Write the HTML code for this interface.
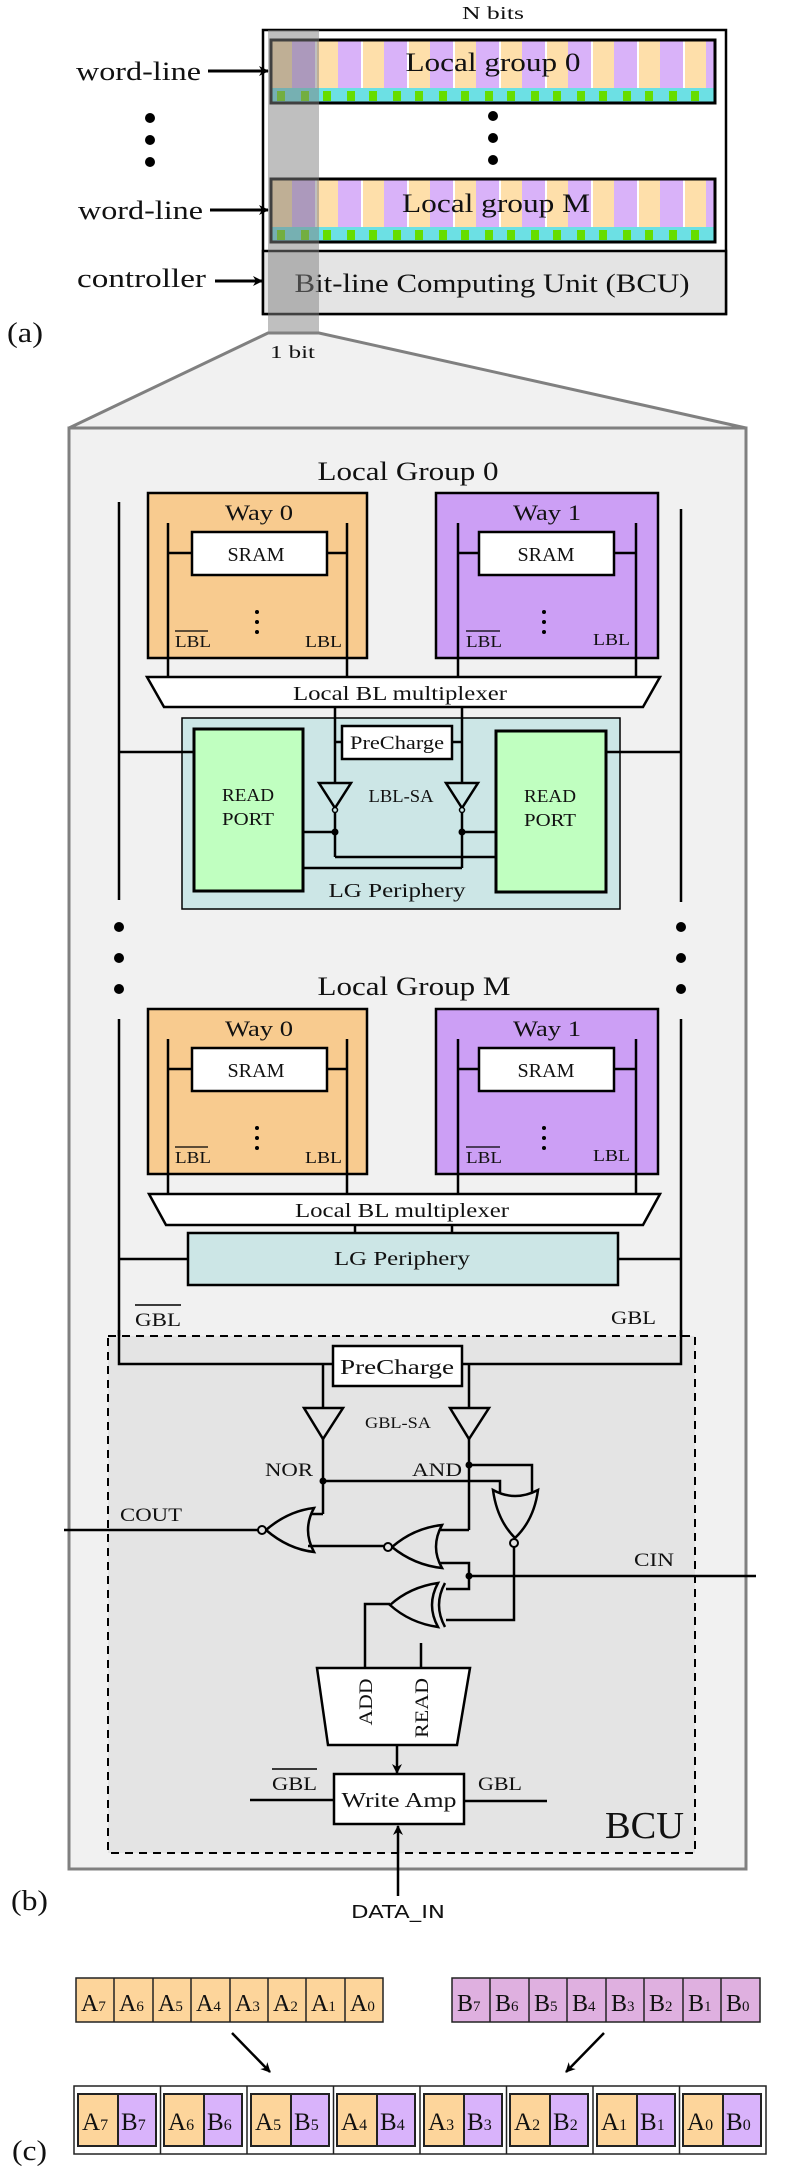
<!DOCTYPE html>
<html><head><meta charset="utf-8"><style>
html,body{margin:0;padding:0;background:#fff;}
svg{display:block;}
text{font-family:"Liberation Serif",serif;fill:#111;}
</style></head><body>
<svg width="797" height="2174" viewBox="0 0 797 2174" xmlns="http://www.w3.org/2000/svg">
<defs>
<pattern id="cols" x="271" y="40" width="46" height="63" patternUnits="userSpaceOnUse">
<rect x="0" y="0" width="46" height="63" fill="#fff"/>
<rect x="0" y="0" width="21" height="63" fill="#fedfaa"/>
<rect x="21" y="0" width="23" height="63" fill="#d9b2f9"/>
<rect x="0" y="48" width="46" height="15" fill="#6ce0e4"/>
<rect x="6" y="51" width="8" height="10" fill="#66dd00"/>
<rect x="30" y="51" width="8" height="10" fill="#66dd00"/>
</pattern>
<pattern id="cols2" x="271" y="179" width="46" height="63" patternUnits="userSpaceOnUse">
<rect x="0" y="0" width="46" height="63" fill="#fff"/>
<rect x="0" y="0" width="21" height="63" fill="#fedfaa"/>
<rect x="21" y="0" width="23" height="63" fill="#d9b2f9"/>
<rect x="0" y="48" width="46" height="15" fill="#6ce0e4"/>
<rect x="6" y="51" width="8" height="10" fill="#66dd00"/>
<rect x="30" y="51" width="8" height="10" fill="#66dd00"/>
</pattern>
<marker id="ah" markerWidth="10" markerHeight="10" refX="9" refY="5" orient="auto" markerUnits="userSpaceOnUse"><path d="M0,0 L10,5 L0,10 L3,5 Z" fill="#000"/></marker>
</defs>

<!-- (a) -->
<text x="493" y="19" font-size="18" text-anchor="middle" textLength="62" lengthAdjust="spacingAndGlyphs">N bits</text>
<rect x="263" y="30" width="463" height="284" fill="#fff" stroke="#000" stroke-width="2.5"/>
<rect x="263" y="251" width="463" height="63" fill="#e4e4e4" stroke="#000" stroke-width="2.5"/>
<rect x="271" y="40" width="444" height="63" fill="url(#cols)" stroke="#000" stroke-width="3"/>
<rect x="271" y="179" width="444" height="63" fill="url(#cols2)" stroke="#000" stroke-width="3"/>
<text x="493" y="71" font-size="26" text-anchor="middle" textLength="175" lengthAdjust="spacingAndGlyphs">Local group 0</text>
<text x="496" y="212" font-size="26" text-anchor="middle" textLength="188" lengthAdjust="spacingAndGlyphs">Local group M</text>
<text x="492" y="292" font-size="26" text-anchor="middle" textLength="395" lengthAdjust="spacingAndGlyphs">Bit-line Computing Unit (BCU)</text>
<circle cx="493" cy="116" r="5"/><circle cx="493" cy="138" r="5"/><circle cx="493" cy="160" r="5"/>
<circle cx="150" cy="118" r="5"/><circle cx="150" cy="140" r="5"/><circle cx="150" cy="162" r="5"/>
<text x="76" y="80" font-size="26" textLength="125" lengthAdjust="spacingAndGlyphs">word-line</text>
<text x="78" y="219" font-size="26" textLength="125" lengthAdjust="spacingAndGlyphs">word-line</text>
<text x="77" y="287" font-size="26" textLength="129" lengthAdjust="spacingAndGlyphs">controller</text>
<line x1="208" y1="71" x2="268" y2="71" stroke="#000" stroke-width="3" marker-end="url(#ah)"/>
<line x1="210" y1="210" x2="268" y2="210" stroke="#000" stroke-width="3" marker-end="url(#ah)"/>
<line x1="215" y1="281" x2="262" y2="281" stroke="#000" stroke-width="3" marker-end="url(#ah)"/>
<text x="7" y="342" font-size="28" textLength="36" lengthAdjust="spacingAndGlyphs">(a)</text>
<rect x="268" y="30" width="51" height="303" fill="#808080" opacity="0.5"/>

<!-- (b) panel -->
<polygon points="268,333 319,333 746,428 69,428" fill="#f1f1f1" stroke="#808080" stroke-width="3"/>
<rect x="69" y="428" width="677" height="1441" fill="#f1f1f1" stroke="#808080" stroke-width="3"/>
<text x="270" y="358" font-size="18" textLength="45" lengthAdjust="spacingAndGlyphs">1 bit</text>

<g stroke="#000" stroke-width="2.5" fill="none">
<!-- outer lines -->
<line x1="119" y1="502" x2="119" y2="900"/>
<line x1="681" y1="509" x2="681" y2="902"/>
</g>
<circle cx="119" cy="927" r="5"/><circle cx="119" cy="958" r="5"/><circle cx="119" cy="989" r="5"/>
<circle cx="681" cy="927" r="5"/><circle cx="681" cy="958" r="5"/><circle cx="681" cy="989" r="5"/>

<!-- Local group 0 -->
<text x="408" y="480" font-size="26" text-anchor="middle" textLength="181" lengthAdjust="spacingAndGlyphs">Local Group 0</text>
<g id="lg0">
<rect x="148" y="493" width="219" height="165" fill="#f8cb8f" stroke="#000" stroke-width="2.5"/>
<rect x="436" y="493" width="222" height="165" fill="#cc9ff5" stroke="#000" stroke-width="2.5"/>
<text x="259" y="520" font-size="22" text-anchor="middle" textLength="68" lengthAdjust="spacingAndGlyphs">Way 0</text>
<text x="547" y="520" font-size="22" text-anchor="middle" textLength="68" lengthAdjust="spacingAndGlyphs">Way 1</text>
<g stroke="#000" stroke-width="2.5">
<line x1="168" y1="523" x2="168" y2="677"/><line x1="347" y1="523" x2="347" y2="677"/>
<line x1="458" y1="523" x2="458" y2="677"/><line x1="636" y1="523" x2="636" y2="677"/>
<line x1="168" y1="553" x2="192" y2="553"/><line x1="327" y1="553" x2="347" y2="553"/>
<line x1="458" y1="553" x2="479" y2="553"/><line x1="614" y1="553" x2="636" y2="553"/>
</g>
<rect x="192" y="532" width="135" height="43" fill="#fff" stroke="#000" stroke-width="2.5"/>
<rect x="479" y="532" width="135" height="43" fill="#fff" stroke="#000" stroke-width="2.5"/>
<text x="256" y="561" font-size="20" text-anchor="middle" textLength="57" lengthAdjust="spacingAndGlyphs">SRAM</text>
<text x="546" y="561" font-size="20" text-anchor="middle" textLength="57" lengthAdjust="spacingAndGlyphs">SRAM</text>
<circle cx="257" cy="612" r="2"/><circle cx="257" cy="622" r="2"/><circle cx="257" cy="632" r="2"/>
<circle cx="544" cy="612" r="2"/><circle cx="544" cy="622" r="2"/><circle cx="544" cy="632" r="2"/>
<text x="175" y="647" font-size="17" textLength="36" lengthAdjust="spacingAndGlyphs">LBL</text>
<line x1="175" y1="631" x2="208" y2="631" stroke="#000" stroke-width="1.2"/>
<text x="305" y="647" font-size="17" textLength="37" lengthAdjust="spacingAndGlyphs">LBL</text>
<text x="466" y="647" font-size="17" textLength="36" lengthAdjust="spacingAndGlyphs">LBL</text>
<line x1="466" y1="631" x2="500" y2="631" stroke="#000" stroke-width="1.2"/>
<text x="593" y="645" font-size="17" textLength="37" lengthAdjust="spacingAndGlyphs">LBL</text>
</g>
<polygon points="147,677 660,677 643,707 164,707" fill="#fff" stroke="#000" stroke-width="2.5"/>
<text x="400" y="700" font-size="20" text-anchor="middle" textLength="214" lengthAdjust="spacingAndGlyphs">Local BL multiplexer</text>
<rect x="182" y="718" width="438" height="191" fill="#cce6e6" stroke="#000" stroke-width="1.5"/>
<g stroke="#000" stroke-width="2.5" fill="none">
<line x1="119" y1="752" x2="194" y2="752"/><line x1="606" y1="752" x2="681" y2="752"/>
<line x1="335" y1="707" x2="335" y2="857"/><line x1="462" y1="707" x2="462" y2="868"/>
<line x1="335" y1="857" x2="496" y2="857"/><line x1="303" y1="868" x2="462" y2="868"/>
<line x1="303" y1="832" x2="335" y2="832"/><line x1="462" y1="832" x2="496" y2="832"/>
<line x1="335" y1="742" x2="342" y2="742"/><line x1="452" y1="742" x2="462" y2="742"/>
<polygon points="319,783 351,783 335,808" fill="#cce6e6"/>
<polygon points="446,783 478,783 462,808" fill="#cce6e6"/>
<circle cx="335" cy="810" r="2.5" fill="#cce6e6" stroke-width="1.5"/>
<circle cx="462" cy="810" r="2.5" fill="#cce6e6" stroke-width="1.5"/>
</g>
<circle cx="335" cy="832" r="3.5"/><circle cx="462" cy="832" r="3.5"/>
<rect x="194" y="729" width="109" height="162" fill="#c0ffc0" stroke="#000" stroke-width="3"/>
<rect x="496" y="731" width="110" height="161" fill="#c0ffc0" stroke="#000" stroke-width="3"/>
<text x="248" y="801" font-size="18" text-anchor="middle" textLength="52" lengthAdjust="spacingAndGlyphs">READ</text>
<text x="248" y="825" font-size="18" text-anchor="middle" textLength="52" lengthAdjust="spacingAndGlyphs">PORT</text>
<text x="550" y="802" font-size="18" text-anchor="middle" textLength="52" lengthAdjust="spacingAndGlyphs">READ</text>
<text x="550" y="826" font-size="18" text-anchor="middle" textLength="52" lengthAdjust="spacingAndGlyphs">PORT</text>
<rect x="342" y="726" width="110" height="33" fill="#fff" stroke="#000" stroke-width="2.5"/>
<text x="397" y="749" font-size="19" text-anchor="middle" textLength="94" lengthAdjust="spacingAndGlyphs">PreCharge</text>
<text x="401" y="802" font-size="18" text-anchor="middle" textLength="65" lengthAdjust="spacingAndGlyphs">LBL-SA</text>
<text x="397" y="897" font-size="20" text-anchor="middle" textLength="137" lengthAdjust="spacingAndGlyphs">LG Periphery</text>

<!-- Local group M -->
<text x="414" y="995" font-size="26" text-anchor="middle" textLength="193" lengthAdjust="spacingAndGlyphs">Local Group M</text>
<use href="#lg0" transform="translate(0,516)"/>
<polygon points="149,1194 660,1194 643,1225 166,1225" fill="#fff" stroke="#000" stroke-width="2.5"/>
<text x="402" y="1217" font-size="20" text-anchor="middle" textLength="214" lengthAdjust="spacingAndGlyphs">Local BL multiplexer</text>
<g stroke="#000" stroke-width="2.5" fill="none">
<line x1="355" y1="1225" x2="355" y2="1233"/><line x1="452" y1="1225" x2="452" y2="1233"/>
<line x1="119" y1="1019" x2="119" y2="1364"/><line x1="681" y1="1019" x2="681" y2="1364"/>
<line x1="119" y1="1259" x2="188" y2="1259"/><line x1="618" y1="1259" x2="681" y2="1259"/>
</g>
<rect x="188" y="1233" width="430" height="52" fill="#cce6e6" stroke="#000" stroke-width="2.5"/>
<text x="402" y="1265" font-size="20" text-anchor="middle" textLength="136" lengthAdjust="spacingAndGlyphs">LG Periphery</text>
<text x="135" y="1326" font-size="19" textLength="46" lengthAdjust="spacingAndGlyphs">GBL</text>
<line x1="135" y1="1305" x2="181" y2="1305" stroke="#000" stroke-width="1.5"/>
<text x="611" y="1324" font-size="19" textLength="45" lengthAdjust="spacingAndGlyphs">GBL</text>

<!-- BCU -->
<rect x="108" y="1336" width="587" height="517" fill="#e4e4e4" stroke="#000" stroke-width="2" stroke-dasharray="8,6"/>
<g stroke="#000" stroke-width="2.5" fill="none">
<polyline points="119,1330 119,1364 333,1364"/>
<polyline points="681,1330 681,1364 462,1364"/>
<line x1="323" y1="1364" x2="323" y2="1514"/>
<line x1="469" y1="1364" x2="469" y2="1530"/>
<polygon points="304,1408 343,1408 323,1439" fill="#e4e4e4"/>
<polygon points="450,1408 489,1408 469,1439" fill="#e4e4e4"/>
<!-- NOR bus -->
<polyline points="323,1481 500,1481 500,1494"/>
<polyline points="469,1465 532,1465 532,1492"/>
<line x1="323" y1="1514" x2="308" y2="1514"/>
<!-- COUT gate -->
<path d="M314,1508 Q302,1530 314,1552 Q288,1549 266,1530 Q288,1511 314,1508 Z" fill="#e4e4e4"/>
<circle cx="262" cy="1530" r="4" fill="#e4e4e4" stroke-width="2"/>
<line x1="258" y1="1530" x2="64" y2="1530"/>
<line x1="308" y1="1546" x2="384" y2="1546"/>
<!-- gate 2 -->
<line x1="437" y1="1530" x2="469" y2="1530"/>
<polyline points="437,1563 469,1563 469,1589 446,1589"/>
<path d="M442,1525 Q430,1547 442,1568 Q414,1565 392,1547 Q414,1528 442,1525 Z" fill="#e4e4e4"/>
<circle cx="388" cy="1547" r="4" fill="#e4e4e4" stroke-width="2"/>
<!-- CIN -->
<line x1="469" y1="1576" x2="756" y2="1576"/>
<!-- vertical NOR -->
<path d="M493,1490 Q515,1502 538,1490 Q534,1520 515,1538 Q497,1520 493,1490 Z" fill="#e4e4e4"/>
<circle cx="514" cy="1543" r="4" fill="#e4e4e4" stroke-width="2"/>
<polyline points="514,1547 514,1620 446,1620"/>
<!-- XOR -->
<path d="M438,1583 Q426,1605 438,1627 Q410,1623 390,1605 Q410,1587 438,1583 Z" fill="#e4e4e4"/>
<path d="M445,1583 Q433,1605 445,1627"/>
<polyline points="390,1604 365,1604 365,1668"/>
<line x1="421" y1="1643" x2="421" y2="1668"/>
<polygon points="317,1668 470,1668 457,1745 328,1745" fill="#fff"/>
<line x1="397" y1="1745" x2="397" y2="1773" marker-end="url(#ah)"/>
<line x1="250" y1="1800" x2="334" y2="1800"/><line x1="464" y1="1801" x2="547" y2="1801"/>
<line x1="398" y1="1896" x2="398" y2="1826" marker-end="url(#ah)"/>
</g>
<circle cx="323" cy="1481" r="3.5"/><circle cx="469" cy="1465" r="3.5"/><circle cx="469" cy="1576" r="3.5"/>
<rect x="333" y="1346" width="129" height="40" fill="#fff" stroke="#000" stroke-width="2.5"/>
<text x="397" y="1374" font-size="21" text-anchor="middle" textLength="114" lengthAdjust="spacingAndGlyphs">PreCharge</text>
<text x="398" y="1428" font-size="16" text-anchor="middle" textLength="66" lengthAdjust="spacingAndGlyphs">GBL-SA</text>
<text x="313" y="1476" font-size="19" text-anchor="end" textLength="48" lengthAdjust="spacingAndGlyphs">NOR</text>
<text x="462" y="1476" font-size="19" text-anchor="end" textLength="50" lengthAdjust="spacingAndGlyphs">AND</text>
<text x="120" y="1521" font-size="19" textLength="62" lengthAdjust="spacingAndGlyphs">COUT</text>
<text x="634" y="1566" font-size="19" textLength="40" lengthAdjust="spacingAndGlyphs">CIN</text>
<text transform="translate(372,1702) rotate(-90)" font-size="19" text-anchor="middle" textLength="47" lengthAdjust="spacingAndGlyphs">ADD</text>
<text transform="translate(428,1708) rotate(-90)" font-size="19" text-anchor="middle" textLength="60" lengthAdjust="spacingAndGlyphs">READ</text>
<rect x="334" y="1774" width="130" height="50" fill="#fff" stroke="#000" stroke-width="2.5"/>
<text x="399" y="1807" font-size="21" text-anchor="middle" textLength="115" lengthAdjust="spacingAndGlyphs">Write Amp</text>
<text x="272" y="1790" font-size="19" textLength="45" lengthAdjust="spacingAndGlyphs">GBL</text>
<line x1="272" y1="1769" x2="317" y2="1769" stroke="#000" stroke-width="1.5"/>
<text x="478" y="1790" font-size="19" textLength="44" lengthAdjust="spacingAndGlyphs">GBL</text>
<text x="605" y="1838" font-size="38" textLength="79" lengthAdjust="spacingAndGlyphs">BCU</text>
<text x="398" y="1918" font-size="18" text-anchor="middle" textLength="94" lengthAdjust="spacingAndGlyphs" style="font-family:'DejaVu Sans','Liberation Sans',sans-serif">DATA_IN</text>
<text x="11" y="1910" font-size="28" textLength="37" lengthAdjust="spacingAndGlyphs">(b)</text>

<!-- (c) -->
<g stroke="#222" stroke-width="1.5">
<rect x="76" y="1978" width="307" height="44" fill="#fdd59b"/>
<rect x="452" y="1978" width="308" height="44" fill="#dfb0e0"/>
<line x1="114" y1="1978" x2="114" y2="2022"/><line x1="153" y1="1978" x2="153" y2="2022"/><line x1="191" y1="1978" x2="191" y2="2022"/><line x1="230" y1="1978" x2="230" y2="2022"/><line x1="268" y1="1978" x2="268" y2="2022"/><line x1="306" y1="1978" x2="306" y2="2022"/><line x1="345" y1="1978" x2="345" y2="2022"/>
<line x1="490" y1="1978" x2="490" y2="2022"/><line x1="529" y1="1978" x2="529" y2="2022"/><line x1="567" y1="1978" x2="567" y2="2022"/><line x1="606" y1="1978" x2="606" y2="2022"/><line x1="644" y1="1978" x2="644" y2="2022"/><line x1="683" y1="1978" x2="683" y2="2022"/><line x1="721" y1="1978" x2="721" y2="2022"/>
</g>
<g font-size="24">
<text x="81" y="2011">A<tspan font-size="15">7</tspan></text>
<text x="119" y="2011">A<tspan font-size="15">6</tspan></text>
<text x="158" y="2011">A<tspan font-size="15">5</tspan></text>
<text x="196" y="2011">A<tspan font-size="15">4</tspan></text>
<text x="235" y="2011">A<tspan font-size="15">3</tspan></text>
<text x="273" y="2011">A<tspan font-size="15">2</tspan></text>
<text x="311" y="2011">A<tspan font-size="15">1</tspan></text>
<text x="350" y="2011">A<tspan font-size="15">0</tspan></text>
<text x="457" y="2011">B<tspan font-size="15">7</tspan></text>
<text x="495" y="2011">B<tspan font-size="15">6</tspan></text>
<text x="534" y="2011">B<tspan font-size="15">5</tspan></text>
<text x="572" y="2011">B<tspan font-size="15">4</tspan></text>
<text x="611" y="2011">B<tspan font-size="15">3</tspan></text>
<text x="649" y="2011">B<tspan font-size="15">2</tspan></text>
<text x="688" y="2011">B<tspan font-size="15">1</tspan></text>
<text x="726" y="2011">B<tspan font-size="15">0</tspan></text>
</g>
<line x1="232" y1="2033" x2="270" y2="2072" stroke="#000" stroke-width="2.5" marker-end="url(#ah)"/>
<line x1="604" y1="2033" x2="566" y2="2072" stroke="#000" stroke-width="2.5" marker-end="url(#ah)"/>
<rect x="74" y="2086" width="692" height="68" fill="#fff" stroke="#222" stroke-width="1.5"/>
<g stroke="#222" stroke-width="1.5">
<line x1="160.5" y1="2086" x2="160.5" y2="2154"/><line x1="247" y1="2086" x2="247" y2="2154"/><line x1="333.5" y1="2086" x2="333.5" y2="2154"/><line x1="420" y1="2086" x2="420" y2="2154"/><line x1="506.5" y1="2086" x2="506.5" y2="2154"/><line x1="593" y1="2086" x2="593" y2="2154"/><line x1="679.5" y1="2086" x2="679.5" y2="2154"/>
</g>
<g stroke="#222" stroke-width="2">
<rect x="78" y="2094" width="40" height="52" fill="#fdd59b"/><rect x="118" y="2094" width="38" height="52" fill="#d9b3fb"/>
<rect x="164" y="2094" width="40" height="52" fill="#fdd59b"/><rect x="204" y="2094" width="38" height="52" fill="#d9b3fb"/>
<rect x="251" y="2094" width="40" height="52" fill="#fdd59b"/><rect x="291" y="2094" width="38" height="52" fill="#d9b3fb"/>
<rect x="337" y="2094" width="40" height="52" fill="#fdd59b"/><rect x="377" y="2094" width="38" height="52" fill="#d9b3fb"/>
<rect x="424" y="2094" width="40" height="52" fill="#fdd59b"/><rect x="464" y="2094" width="38" height="52" fill="#d9b3fb"/>
<rect x="510" y="2094" width="40" height="52" fill="#fdd59b"/><rect x="550" y="2094" width="38" height="52" fill="#d9b3fb"/>
<rect x="597" y="2094" width="40" height="52" fill="#fdd59b"/><rect x="637" y="2094" width="38" height="52" fill="#d9b3fb"/>
<rect x="683" y="2094" width="40" height="52" fill="#fdd59b"/><rect x="723" y="2094" width="38" height="52" fill="#d9b3fb"/>
</g>
<g font-size="25">
<text x="82" y="2130">A<tspan font-size="16">7</tspan></text><text x="121" y="2130">B<tspan font-size="16">7</tspan></text>
<text x="168" y="2130">A<tspan font-size="16">6</tspan></text><text x="207" y="2130">B<tspan font-size="16">6</tspan></text>
<text x="255" y="2130">A<tspan font-size="16">5</tspan></text><text x="294" y="2130">B<tspan font-size="16">5</tspan></text>
<text x="341" y="2130">A<tspan font-size="16">4</tspan></text><text x="380" y="2130">B<tspan font-size="16">4</tspan></text>
<text x="428" y="2130">A<tspan font-size="16">3</tspan></text><text x="467" y="2130">B<tspan font-size="16">3</tspan></text>
<text x="514" y="2130">A<tspan font-size="16">2</tspan></text><text x="553" y="2130">B<tspan font-size="16">2</tspan></text>
<text x="601" y="2130">A<tspan font-size="16">1</tspan></text><text x="640" y="2130">B<tspan font-size="16">1</tspan></text>
<text x="687" y="2130">A<tspan font-size="16">0</tspan></text><text x="726" y="2130">B<tspan font-size="16">0</tspan></text>
</g>
<text x="12" y="2160" font-size="28" textLength="35" lengthAdjust="spacingAndGlyphs">(c)</text>
</svg>
</body></html>
